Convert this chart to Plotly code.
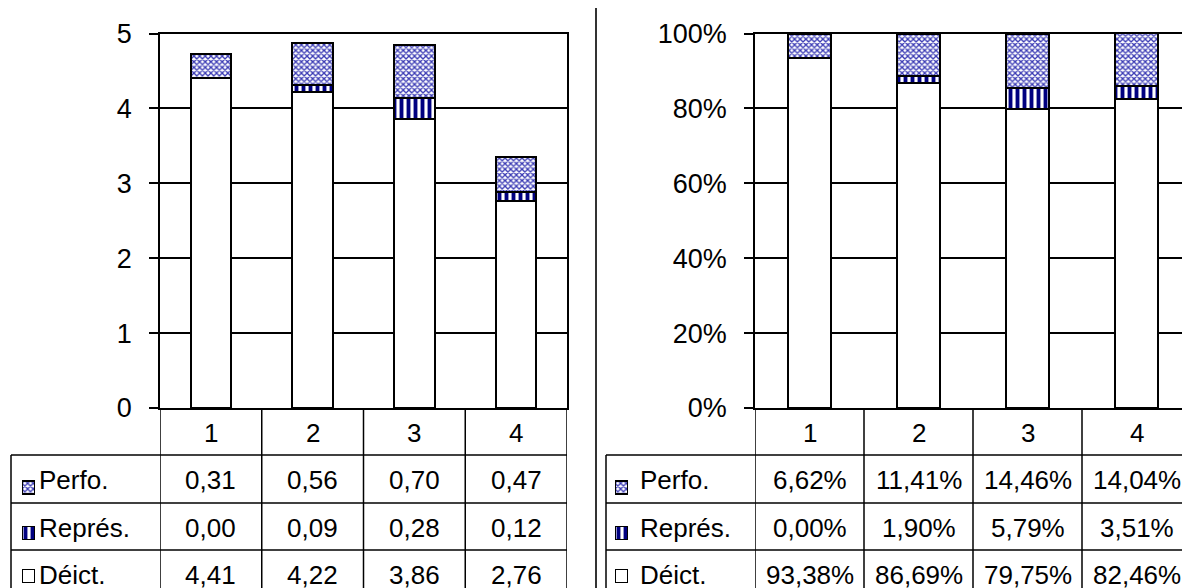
import plotly.graph_objects as go

# ---------------- data ----------------
categories = ["1", "2", "3", "4"]
series_names = ["Déict.", "Représ.", "Perfo."]          # bottom -> top in the stack

deict_vals = [4.41, 4.22, 3.86, 2.76]
repres_vals = [0.00, 0.09, 0.28, 0.12]
perfo_vals = [0.31, 0.56, 0.70, 0.47]

deict_pct = [93.38, 86.69, 79.75, 82.46]
repres_pct = [0.00, 1.90, 5.79, 3.51]
perfo_pct = [6.62, 11.41, 14.46, 14.04]

left_ticks = [0, 1, 2, 3, 4, 5]
right_ticks = [0, 20, 40, 60, 80, 100]

# ---------------- layout helpers ----------------
W, H = 1190, 588
OFF = 8  # page body margin
FONT = "Arial, Liberation Sans, sans-serif"
BLACK = "#000000"


def px(x):
    return (x - OFF) / W


def py(y):
    return 1 - (y - OFF) / H


Y_TOP, Y_BOT = 33.5, 408
HDR_BOT = 455
ROW_LINES = [503, 550, 597]
ROW_CENTERS = {"Perfo.": 479, "Représ.": 526.5, "Déict.": 573.5}
KEY_CENTERS = {"Perfo.": 487.5, "Représ.": 533, "Déict.": 576}
KEY_SIZE = 13
HDR_CENTER = 431.5
KEY_Y_RANGE = [589, 455]

styles = {
    "Déict.": dict(color="#ffffff", pattern=dict(shape="")),
    "Représ.": dict(color="#ffffff", pattern=dict(shape="|", fgcolor="#000080", bgcolor="#ffffff",
                                                   size=7, solidity=0.55, fillmode="replace")),
    "Perfo.": dict(color="#ffffff", pattern=dict(shape="x", fgcolor="#3a3ab4", bgcolor="#ffffff",
                                                  size=4, solidity=0.55, fillmode="replace")),
}

panels = [
    dict(xa="x", ya="y", kx="x3", ky="y3", xdom=[px(160), px(567)], leg_left=11, key_x=22, text_x=37,
         vals={"Déict.": deict_vals, "Représ.": repres_vals, "Perfo.": perfo_vals},
         fmt=lambda v: f"{v:.2f}".replace(".", ","), ticks=left_ticks,
         ticktext=[str(t) for t in left_ticks], rng=[0, 5], right_px=567),
    dict(xa="x2", ya="y2", kx="x4", ky="y4", xdom=[px(755), min(1.0, px(1191))], leg_left=606,
         key_x=615, text_x=638,
         vals={"Déict.": deict_pct, "Représ.": repres_pct, "Perfo.": perfo_pct},
         fmt=lambda v: f"{v:.2f}".replace(".", ",") + "%", ticks=right_ticks,
         ticktext=[f"{t}%" for t in right_ticks], rng=[0, 100], right_px=1200),
]

fig = go.Figure()
annotations = []
shapes = []
txt_font = dict(family=FONT, size=26, color=BLACK)

for p in panels:
    for name in series_names:
        st = styles[name]
        fig.add_trace(go.Bar(
            x=categories, y=p["vals"][name], name=name,
            xaxis=p["xa"], yaxis=p["ya"],
            marker=dict(color=st["color"], pattern=st["pattern"],
                        line=dict(color=BLACK, width=2)),
            showlegend=False, hoverinfo="x+y+name",
        ))
        # legend key inside the data table (patterned square)
        fig.add_trace(go.Bar(
            x=[1], y=[KEY_CENTERS[name]], base=[0], width=[KEY_SIZE], orientation="h",
            name=name, xaxis=p["kx"], yaxis=p["ky"],
            marker=dict(color=st["color"], pattern=st["pattern"],
                        line=dict(color=BLACK, width=1.2)),
            showlegend=False, hoverinfo="name",
        ))
        # series name in the table
        annotations.append(dict(
            x=px(p["text_x"]), y=py(ROW_CENTERS[name] + 1), xref="paper", yref="paper",
            text=name, showarrow=False, xanchor="left", yanchor="middle", font=txt_font))
        # table values
        for i, v in enumerate(p["vals"][name]):
            annotations.append(dict(
                x=i, y=py(ROW_CENTERS[name] + 1), xref=p["xa"], yref="paper",
                text=p["fmt"](v), showarrow=False, xanchor="center", yanchor="middle",
                font=txt_font))

    # header row category labels
    for i, c in enumerate(categories):
        annotations.append(dict(
            x=i, y=py(HDR_CENTER + 1), xref=p["xa"], yref="paper", text=c, showarrow=False,
            xanchor="center", yanchor="middle", font=txt_font))

    # table lines
    lw = 1.5
    for i in range(len(categories) + 1):
        shapes.append(dict(type="line", xref=p["xa"], yref="paper",
                           x0=i - 0.5, x1=i - 0.5, y0=py(Y_BOT), y1=py(ROW_LINES[-1]),
                           line=dict(color=BLACK, width=lw)))
    x_left = px(p["leg_left"])
    x_right = px(p["right_px"])
    for yl in [HDR_BOT] + ROW_LINES:
        shapes.append(dict(type="line", xref="paper", yref="paper",
                           x0=x_left, x1=x_right, y0=py(yl), y1=py(yl),
                           line=dict(color=BLACK, width=lw)))
    shapes.append(dict(type="line", xref="paper", yref="paper",
                       x0=x_left, x1=x_left, y0=py(HDR_BOT), y1=py(ROW_LINES[-1]),
                       line=dict(color=BLACK, width=lw)))

# separator between the two charts
shapes.append(dict(type="line", xref="paper", yref="paper", x0=px(596), x1=px(596),
                   y0=py(7), y1=py(600), line=dict(color="#333333", width=2)))

axis_common = dict(showline=True, linecolor=BLACK, linewidth=1.5, mirror=True)

layout = dict(
    width=W, height=H, margin=dict(l=0, r=0, t=0, b=0, pad=0, autoexpand=False),
    paper_bgcolor="#ffffff", plot_bgcolor="rgba(0,0,0,0)",
    barmode="stack", bargap=0.6, showlegend=False,
    font=dict(family=FONT, size=26, color=BLACK),
    annotations=annotations, shapes=shapes,
)

for p, sfx in zip(panels, ["", "2"]):
    layout["xaxis" + sfx] = dict(
        domain=p["xdom"], anchor="y" + sfx, type="category",
        range=[-0.5, len(categories) - 0.5], showticklabels=False, ticks="",
        showgrid=False, fixedrange=True, **axis_common)
    layout["yaxis" + sfx] = dict(
        domain=[py(Y_BOT), py(Y_TOP)], anchor="x" + sfx, range=p["rng"],
        tickmode="array", tickvals=p["ticks"], ticktext=p["ticktext"],
        ticks="outside", ticklen=9, tickwidth=1.5, tickcolor=BLACK, ticklabelstandoff=12,
        showgrid=True, gridcolor=BLACK, gridwidth=1.5, zeroline=False,
        tickfont=dict(family=FONT, size=27, color=BLACK), fixedrange=True,
        **axis_common)

for p, (xk, yk) in zip(panels, [("xaxis3", "yaxis3"), ("xaxis4", "yaxis4")]):
    layout[xk] = dict(domain=[px(p["key_x"]), px(p["key_x"] + KEY_SIZE)], anchor=p["ky"],
                      range=[0, 1], visible=False, fixedrange=True)
    layout[yk] = dict(domain=[max(0.0, py(KEY_Y_RANGE[0])), py(KEY_Y_RANGE[1])],
                      anchor=p["kx"], range=KEY_Y_RANGE, visible=False, fixedrange=True)

fig.update_layout(**layout)

fig.write_html("out.html")
